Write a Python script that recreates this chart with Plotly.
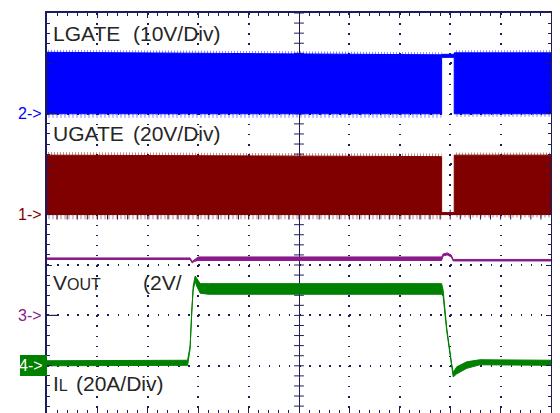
import plotly.graph_objects as go
import numpy as np

# ---- data (time in divisions relative to screen centre, amplitude in divisions) ----
# LGATE (ch2, 10V/div) switching envelope
LG_t  = [-5.0, -2.5, 2.83, 2.83, 3.08, 3.08, 5.0]
LG_hi = [3.22, 3.20, 3.17, 3.18, 3.18, 3.21, 3.21]
LG_lo = [2.00, 2.00, 2.00, 3.12, 3.12, 2.00, 2.00]

# UGATE (ch1, 20V/div) switching envelope
UG_t  = [-5.0, 0.0, 2.83, 2.83, 3.08, 3.08, 5.0]
UG_hi = [1.18, 1.16, 1.15, 0.04, 0.04, 1.18, 1.18]
UG_lo = [0.00, 0.00, 0.00, 0.00, 0.00, 0.00, 0.00]

# VOUT (ch3, 2V/div)
VO_t  = [-5.0, -2.16, -2.12, -2.08, -2.0, 2.83, 2.86, 2.94, 3.02, 3.06, 5.0]
VO_hi = [-0.86, -0.86, -0.93, -0.90, -0.84, -0.84, -0.78, -0.76, -0.80, -0.89, -0.89]
VO_lo = [-0.89, -0.89, -0.96, -0.93, -0.91, -0.91, -0.82, -0.80, -0.84, -0.92, -0.92]

# IL (ch4, 20A/div)
IL_t  = [-5.0, -2.21, -2.16, -2.13, -2.10, -2.06, -2.03, -1.96, -1.8, 0.0, 2.83, 2.86, 2.93, 3.03, 3.06, 3.13, 3.33, 3.59, 5.0]
IL_hi = [-2.90, -2.89, -2.60, -1.87, -1.42, -1.22, -1.27, -1.37, -1.37, -1.37, -1.37, -1.50, -2.24, -2.97, -3.13, -3.02, -2.92, -2.88, -2.89]
IL_lo = [-3.00, -2.99, -2.66, -1.93, -1.50, -1.32, -1.42, -1.56, -1.58, -1.58, -1.58, -1.62, -2.30, -3.03, -3.22, -3.16, -3.05, -2.98, -2.99]

BLUE = "#0000ff"
DRED = "#800000"
PURP = "#8a1a8a"
GREEN = "#008000"
NAVY = "#1c1c5a"
TXT = "#262626"
FONT = "Liberation Sans, Arial, sans-serif"

# page body has an 8px margin; the figure is sized so it fills the 560x413 window
OFF = 8
W, H = 560 - OFF, 413 - OFF
L, R, T, B = 47 - OFF, 9, 13 - OFF, 0
PW, PH = W - L - R, H - T - B
DIV = PW / 10.0
YTOP = 4.0
YBOT = YTOP - PH / DIV


def px(xp):
    return (xp - 47) / PW


def py(yp):
    return (413 - yp) / PH


def poly(t, hi, lo):
    xs = list(t) + list(t)[::-1] + [t[0]]
    ys = list(hi) + list(lo)[::-1] + [hi[0]]
    return xs, ys


def band(t, hi, lo, color, lw=1.0):
    xs, ys = poly(t, hi, lo)
    return go.Scatter(x=xs, y=ys, mode="lines", fill="toself", fillcolor=color,
                      line=dict(color=color, width=lw), hoverinfo="skip")


def fringe(t, edge, d, color, size=3, sol=0.3):
    other = [e + d for e in edge]
    xs, ys = poly(t, other, edge)
    return go.Scatter(x=xs, y=ys, mode="lines", fill="toself", fillcolor="rgba(0,0,0,0)",
                      fillpattern=dict(shape="|", size=size, solidity=sol, fgcolor=color,
                                       bgcolor="rgba(0,0,0,0)"),
                      line=dict(width=0), hoverinfo="skip")


fig = go.Figure()

# centre-axis cross ticks (graticule)
minor_y = np.round(np.arange(-3.8, 4.0001, 0.2), 3)
minor_x = np.round(np.arange(-4.8, 4.8001, 0.2), 3)
fig.add_trace(go.Scatter(x=[0] * len(minor_y), y=minor_y, mode="markers",
                         marker=dict(symbol="line-ew", size=7, line=dict(width=1, color=NAVY)),
                         hoverinfo="skip"))
fig.add_trace(go.Scatter(x=minor_x, y=[0] * len(minor_x), mode="markers",
                         marker=dict(symbol="line-ns", size=7, line=dict(width=1, color=NAVY)),
                         hoverinfo="skip"))

# gate bands with ragged switching-noise fringes
LG_a, LG_b = LG_t[:3], LG_t[5:]
fig.add_trace(fringe(LG_a, LG_hi[:3], 0.05, BLUE))
fig.add_trace(fringe(LG_b, LG_hi[5:], 0.05, BLUE))
fig.add_trace(fringe(LG_a, LG_lo[:3], -0.08, BLUE, size=4, sol=0.25))
fig.add_trace(fringe(LG_b, LG_lo[5:], -0.06, BLUE, size=4, sol=0.25))
fig.add_trace(band(LG_t, LG_hi, LG_lo, BLUE))

UG_a, UG_b = UG_t[:3], UG_t[5:]
fig.add_trace(fringe(UG_a, UG_hi[:3], 0.06, DRED))
fig.add_trace(fringe(UG_b, UG_hi[5:], 0.05, DRED))
fig.add_trace(fringe(UG_a, UG_lo[:3], -0.09, DRED, size=4, sol=0.25))
fig.add_trace(fringe(UG_b, UG_lo[5:], -0.06, DRED, size=4, sol=0.25))
fig.add_trace(band(UG_t, UG_hi, UG_lo, DRED))

fig.add_trace(band(VO_t, VO_hi, VO_lo, PURP))
fig.add_trace(band(IL_t, IL_hi, IL_lo, GREEN))

axis_common = dict(
    showticklabels=False, showgrid=True, gridcolor=NAVY, gridwidth=1.5,
    griddash="1.5px,%.2fpx" % (DIV / 5 - 1.5),
    zeroline=True, zerolinecolor=NAVY, zerolinewidth=1,
    showline=True, linecolor=NAVY, linewidth=1.5, mirror="ticks",
    ticks="inside", ticklen=5, tickwidth=1, tickcolor=NAVY, dtick=1, tick0=0,
    minor=dict(dtick=0.2, ticks="inside", ticklen=3, tickwidth=1, tickcolor=NAVY, showgrid=False),
    fixedrange=True,
)
fig.update_xaxes(range=[-5, 5], **axis_common)
fig.update_yaxes(range=[YBOT, YTOP], **axis_common)

ann = []


def label(text, xp, base, size=21, color=TXT, anchor="left"):
    ann.append(dict(text=text, xref="paper", yref="paper", x=px(xp), y=py(base - 0.35 * size),
                    xanchor=anchor, yanchor="middle", showarrow=False,
                    font=dict(family=FONT, size=size, color=color)))


label("LGATE", 51, 40.5)
label("(10V/Div)", 131, 40.5)
label("UGATE", 51, 141)
label("(20V/Div)", 131, 141)
label("V<span style='font-size:16px'>OUT</span>", 51, 289.5)
label("(2V/", 141, 289.5)
label("I<span style='font-size:16px'>L</span>", 51, 390.5)
label("(20A/Div)", 74, 390.5)

label("2->", 44, 119, size=16, color=BLUE, anchor="right")
label("1->", 44, 220, size=16, color=DRED, anchor="right")
label("3->", 44, 321, size=16, color=PURP, anchor="right")
label("4->", 45, 371, size=16, color="#ffffff", anchor="right")

fig.update_layout(annotations=ann)

shapes = [
    dict(type="rect", xref="paper", yref="paper", x0=px(20), x1=px(47), y0=py(376), y1=py(355),
         fillcolor=GREEN, line=dict(width=0), layer="above"),
    dict(type="line", xref="paper", yref="y", x0=px(47), x1=px(57), y0=2, y1=2,
         line=dict(color=NAVY, width=1.2)),
    dict(type="line", xref="paper", yref="y", x0=px(47), x1=px(57), y0=-2, y1=-2,
         line=dict(color=NAVY, width=1.2)),
]

fig.update_layout(
    width=W, height=H, margin=dict(l=L, r=R, t=T, b=B, pad=0),
    paper_bgcolor="white", plot_bgcolor="white", showlegend=False,
    shapes=shapes,
)

fig.write_html("out.html")
